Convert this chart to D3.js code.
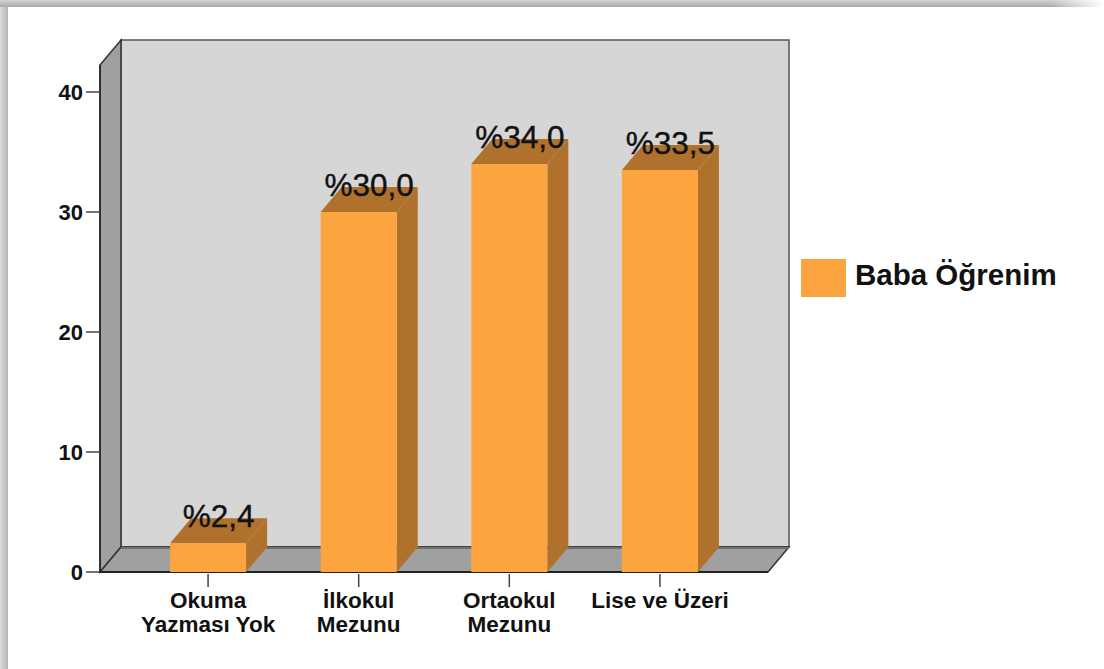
<!DOCTYPE html>
<html>
<head>
<meta charset="utf-8">
<script src="https://cdn.jsdelivr.net/npm/d3@7"></script>
<style>
  html, body { margin: 0; padding: 0; background: #fff; }
  svg { display: block; font-family: "Liberation Sans", Arial, Helvetica, sans-serif; }
</style>
</head>
<body>
<div id="chart"></div>
<script>
// chart data
var categories = ["Okuma Yazması Yok", "İlkokul Mezunu", "Ortaokul Mezunu", "Lise ve Üzeri"];
var categoryLines = [["Okuma", "Yazması Yok"], ["İlkokul", "Mezunu"], ["Ortaokul", "Mezunu"], ["Lise ve Üzeri"]];
var values = [2.4, 30.0, 34.0, 33.5];
var valueLabels = ["%2,4", "%30,0", "%34,0", "%33,5"];
var yTicks = [0, 10, 20, 30, 40];
var seriesName = "Baba Öğrenim";

var W = 1104, H = 669;
var dx = 21, dy = -25;          // depth of the 3d box
var front = "#fca43f", dark = "#b0712d";

var svg = d3.select('#chart').append('svg')
            .attr('width', W)
            .attr('height', H);

// frame shadow on top / left
var defs = svg.append('defs');
var gTop = defs.append('linearGradient').attr('id', 'gtop').attr('x1', 0).attr('y1', 0).attr('x2', 0).attr('y2', 1);
gTop.append('stop').attr('offset', '0%').attr('stop-color', '#d4d4d4');
gTop.append('stop').attr('offset', '100%').attr('stop-color', '#a9a9a9');
var gTopFade = defs.append('linearGradient').attr('id', 'gfade').attr('x1', 0).attr('y1', 0).attr('x2', 1).attr('y2', 0);
gTopFade.append('stop').attr('offset', '0%').attr('stop-color', '#fff').attr('stop-opacity', 0);
gTopFade.append('stop').attr('offset', '100%').attr('stop-color', '#fff').attr('stop-opacity', 1);
var gLeft = defs.append('linearGradient').attr('id', 'gleft').attr('x1', 0).attr('y1', 0).attr('x2', 1).attr('y2', 0);
gLeft.append('stop').attr('offset', '0%').attr('stop-color', '#dcdcdc');
gLeft.append('stop').attr('offset', '100%').attr('stop-color', '#b4b4b4');

svg.append('rect').attr('x', 0).attr('y', 0).attr('width', 8).attr('height', H).attr('fill', 'url(#gleft)');
svg.append('rect').attr('x', 0).attr('y', 0).attr('width', W).attr('height', 7).attr('fill', 'url(#gtop)');
svg.append('rect').attr('x', 1050).attr('y', 0).attr('width', 54).attr('height', 7).attr('fill', 'url(#gfade)');

var x = d3.scaleBand()
          .domain(categories)
          .range([100, 768])
          .paddingInner(0.495)
          .paddingOuter(0.465);

var y = d3.scaleLinear()
          .domain([0, 42.25])
          .range([572, 65]);

var x0 = x.range()[0], x1 = x.range()[1];
var y0 = y(0), yTop = y(y.domain()[1]);

function pts(arr) {
	return arr.map(function(p) { return p[0] + ',' + p[1]; }).join(' ');
}

// back wall
svg.append('rect')
   .attr('x', x0 + dx).attr('y', yTop + dy)
   .attr('width', x1 - x0).attr('height', y0 - yTop)
   .attr('fill', '#d6d6d6')
   .attr('stroke', '#555').attr('stroke-width', 1.5);

// left wall
svg.append('polygon')
   .attr('points', pts([[x0, yTop], [x0 + dx, yTop + dy], [x0 + dx, y0 + dy], [x0, y0]]))
   .attr('fill', '#a0a0a0')
   .attr('stroke', '#333').attr('stroke-width', 1.5);

// floor
svg.append('polygon')
   .attr('points', pts([[x0, y0], [x1, y0], [x1 + dx, y0 + dy], [x0 + dx, y0 + dy]]))
   .attr('fill', '#a0a0a0')
   .attr('stroke', '#333').attr('stroke-width', 1.5);
svg.append('line')
   .attr('x1', x0 + dx).attr('x2', x1 + dx)
   .attr('y1', y0 + dy + 1).attr('y2', y0 + dy + 1)
   .attr('stroke', '#707070').attr('stroke-width', 2);
svg.append('line')
   .attr('x1', x0).attr('x2', x1)
   .attr('y1', y0).attr('y2', y0)
   .attr('stroke', '#222').attr('stroke-width', 2);

// bars
var bars = svg.selectAll('g.bar')
              .data(values)
              .enter().append('g')
              .attr('class', 'bar');

bars.append('polygon')
    .attr('points', function(d, i) {
    	var bx = x(categories[i]) + x.bandwidth(), t = y(d);
    	return pts([[bx, t], [bx + dx, t + dy], [bx + dx, y0 + dy], [bx, y0]]);
    })
    .attr('fill', dark);

bars.append('polygon')
    .attr('points', function(d, i) {
    	var bx = x(categories[i]), bw = x.bandwidth(), t = y(d);
    	return pts([[bx, t], [bx + dx, t + dy], [bx + bw + dx, t + dy], [bx + bw, t]]);
    })
    .attr('fill', dark);

bars.append('rect')
    .attr('x', function(d, i) { return x(categories[i]); })
    .attr('y', function(d) { return y(d); })
    .attr('width', x.bandwidth())
    .attr('height', function(d) { return y0 - y(d); })
    .attr('fill', front);

// value labels
bars.append('text')
    .attr('x', function(d, i) { return x(categories[i]) + x.bandwidth() / 2 + dx / 2; })
    .attr('y', function(d) { return y(d) - 16; })
    .attr('text-anchor', 'middle')
    .attr('font-size', '31.5px')
    .attr('fill', '#111')
    .attr('stroke', '#111')
    .attr('stroke-width', 0.4)
    .text(function(d, i) { return valueLabels[i]; });

// y axis
svg.append('line')
   .attr('x1', x0).attr('x2', x0)
   .attr('y1', yTop).attr('y2', y0)
   .attr('stroke', '#222').attr('stroke-width', 1.5);

var yt = svg.selectAll('g.ytick')
            .data(yTicks)
            .enter().append('g')
            .attr('class', 'ytick')
            .attr('transform', function(d) { return 'translate(0,' + y(d) + ')'; });
yt.append('line')
  .attr('x1', x0 - 14).attr('x2', x0)
  .attr('stroke', '#444').attr('stroke-width', 1.5);
yt.append('text')
  .attr('x', x0 - 17)
  .attr('dy', '0.36em')
  .attr('text-anchor', 'end')
  .attr('font-size', '22px')
  .attr('font-weight', 'bold')
  .attr('fill', '#111')
  .text(function(d) { return d; });

// x axis ticks + labels
var xt = svg.selectAll('g.xtick')
            .data(categories)
            .enter().append('g')
            .attr('class', 'xtick')
            .attr('transform', function(d) { return 'translate(' + (x(d) + x.bandwidth() / 2) + ',0)'; });
xt.append('line')
  .attr('y1', y0 + 2).attr('y2', y0 + 15)
  .attr('stroke', '#444').attr('stroke-width', 1.5);
xt.append('text')
  .attr('text-anchor', 'middle')
  .attr('font-size', '22.5px')
  .attr('font-weight', 'bold')
  .attr('fill', '#111')
  .selectAll('tspan')
  .data(function(d, i) { return categoryLines[i]; })
  .enter().append('tspan')
  .attr('x', 0)
  .attr('y', function(d, j) { return 608 + j * 24; })
  .text(function(d) { return d; });

// legend
var legend = svg.append('g').attr('transform', 'translate(801,259)');
legend.append('rect')
      .attr('width', 45).attr('height', 38)
      .attr('fill', front);
legend.append('text')
      .attr('x', 54).attr('y', 26)
      .attr('font-size', '29.5px')
      .attr('font-weight', 'bold')
      .attr('fill', '#111')
      .text(seriesName);
</script>
</body>
</html>
